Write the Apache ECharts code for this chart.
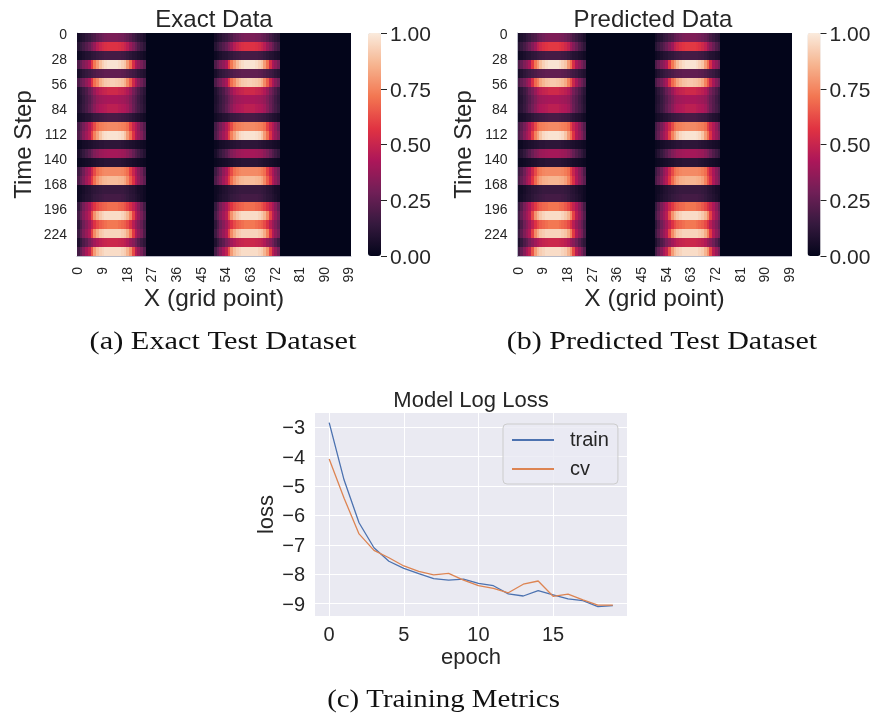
<!DOCTYPE html>
<html>
<head>
<meta charset="utf-8">
<script src="https://cdn.jsdelivr.net/npm/echarts@6/dist/echarts.min.js"></script>
<style>html,body{margin:0;padding:0;background:#fff}#c{width:875px;height:715px}</style>
</head>
<body>
<div id="c"></div>
<script>
// Values, in percent of the colour range. One row = 10 time steps, one entry = one grid point of the band.
const bandRows = [
[5,8,10,13,15,18,20,24,26,28,30,31,31,31,31,30,29,27,25,22,18,15,12,10,7],
[10,14,18,22,26,32,38,46,50,53,55,56,56,56,56,55,53,50,46,38,32,26,20,16,12],
[3,5,7,9,10,12,13,15,16,17,18,18,18,18,18,18,17,16,14,12,10,9,7,6,4],
[20,26,32,36,42,58,72,80,88,93,96,98,98,98,98,96,93,90,80,70,54,42,36,30,24],
[6,9,12,14,16,18,20,22,23,24,25,25,25,25,25,25,24,23,21,19,17,15,12,10,8],
[20,26,30,36,42,56,70,76,84,88,91,92,93,93,92,91,89,85,76,66,52,42,34,28,22],
[8,12,16,20,26,31,38,44,47,49,50,52,52,52,52,50,49,47,44,38,30,25,20,15,11],
[7,10,14,18,22,27,32,37,39,40,41,42,42,42,42,41,40,39,37,32,26,22,17,13,9],
[8,11,15,19,24,29,35,40,43,44,45,47,47,47,47,45,44,43,40,34,27,22,18,14,10],
[4,6,7,9,10,12,14,15,16,17,18,19,19,19,19,18,17,16,15,13,11,9,8,6,4],
[18,24,30,36,44,52,62,70,73,74,75,76,76,76,76,75,74,73,70,60,50,44,36,28,22],
[20,26,34,40,46,60,74,82,90,95,97,98,98,98,98,97,95,90,80,70,56,44,38,32,24],
[2,3,5,6,7,8,9,10,11,11,12,12,12,12,12,12,11,10,9,8,7,6,5,4,3],
[6,10,14,18,22,27,32,35,38,39,40,41,41,41,41,40,39,38,35,31,26,21,17,13,9],
[2,3,4,5,6,7,8,9,10,10,11,11,11,11,11,11,10,9,8,7,6,5,4,3,2],
[16,22,28,36,42,52,62,70,73,75,76,76,76,76,76,76,75,73,70,60,50,42,34,28,20],
[20,26,32,40,46,58,70,78,83,86,87,88,88,88,88,87,86,83,76,66,56,44,36,30,24],
[3,4,6,8,9,11,12,13,14,15,15,15,15,15,15,15,15,14,13,11,10,8,6,5,3],
[3,5,7,9,10,12,14,15,16,17,18,18,18,18,18,18,17,16,14,12,11,9,7,5,3],
[14,22,30,36,42,50,57,62,65,67,68,70,70,70,70,68,67,64,60,54,48,42,34,26,18],
[18,26,34,40,46,62,78,86,91,94,96,96,96,96,96,96,94,91,86,76,60,46,38,30,22],
[12,20,28,34,40,48,56,62,66,68,70,72,72,72,72,70,68,66,62,55,46,38,32,26,18],
[16,24,32,38,44,60,76,84,90,92,94,94,94,94,94,94,92,90,84,74,58,44,36,30,20],
[8,14,20,24,30,35,40,44,47,49,50,51,51,51,51,50,49,47,44,38,34,28,22,16,12],
[18,26,34,42,48,64,80,88,92,94,96,96,96,96,96,96,94,92,86,78,62,46,38,30,22]
];
// Brightness of the predicted panel relative to the exact panel, read row by row.
const predictedRowGain = [1.03,1.04,1,1,1,0.98,1,1,1,1,1,1,1,1,1,1,0.98,1,1,1.02,1,1,1,1,1];
const bandStarts = [0, 50];
const timeSteps = 250;
const gridPoints = 100;
const stepsPerRow = 10;
const epochs = [0,1,2,3,4,5,6,7,8,9,10,11,12,13,14,15,16,17,18,19];
const trainLoss = [-2.85,-4.8,-6.25,-7.1,-7.56,-7.8,-7.98,-8.15,-8.2,-8.17,-8.31,-8.39,-8.67,-8.74,-8.56,-8.7,-8.84,-8.9,-9.1,-9.07];
const cvLoss = [-4.08,-5.42,-6.63,-7.19,-7.44,-7.72,-7.9,-8.02,-7.97,-8.2,-8.39,-8.48,-8.63,-8.34,-8.23,-8.75,-8.68,-8.87,-9.05,-9.05];
const lossTicks = [-9,-8,-7,-6,-5,-4,-3];
const epochTicks = [0,5,10,15];
const rocket = ['#03051a','#35193e','#701f57','#ad1759','#e13342','#f37651','#f6b48f','#faebdd'];

function cells(gains){
  const out = [];
  bandRows.forEach((row, r) => {
    for (let x = 0; x < gridPoints; x++){
      let v = 0;
      if (x < 25) v = row[x];
      else if (x >= bandStarts[1] && x < bandStarts[1] + 24) v = row[x - bandStarts[1]];
      out.push([x, r * stepsPerRow, Math.min(1, v / 100 * gains[r])]);
    }
  });
  return out;
}
function renderCell(params, api){
  const a = api.coord([api.value(0), api.value(1)]);
  const b = api.coord([api.value(0), api.value(1) + stepsPerRow - 1]);
  const s = api.size([1, 1]);
  const x0 = Math.round(a[0] - s[0] / 2), x1 = Math.round(a[0] + s[0] / 2);
  const y0 = Math.round(a[1] - s[1] / 2), y1 = Math.round(b[1] + s[1] / 2);
  return {type:'rect', shape:{x:x0, y:y0, width:x1-x0, height:y1-y0}, style:{fill:api.visual('color')}};
}
const xCats = Array.from({length: gridPoints}, (_, i) => String(i));
const yCats = Array.from({length: timeSteps}, (_, i) => String(i));
const unit = bandRows.map(() => 1);
const ink = '#262626', sans = '"Liberation Sans", Arial, sans-serif';

function t(text, x, y, size){
  return {text, left:x, top:y, textAlign:'center', textVerticalAlign:'middle', padding:0,
    textStyle:{color:ink, fontFamily:sans, fontSize:size, fontWeight:'normal'}};
}
function caption(text, x, y, stretch){
  return {type:'text', x, y, scaleX:stretch, silent:true,
    style:{text, x:0, y:0, align:'center', verticalAlign:'middle', fill:'#111', font:'25px "Liberation Serif", serif'}};
}
function minus(v){ return String(v).replace('-', '\u2212'); }

const hmX = [77, 517.5], cbX = [368, 807.5];
const grids = [], xAxes = [], yAxes = [], vms = [], series = [];
[0,1].forEach(p => {
  grids.push({left:hmX[p], top:33, width:274, height:223});
  xAxes.push({gridIndex:grids.length-1, type:'category', data:xCats, name:'X (grid point)', nameLocation:'middle', nameGap:29,
    nameTextStyle:{color:ink,fontFamily:sans,fontSize:24.5},
    axisLine:{show:true,lineStyle:{color:'#b9b9c6',width:1}}, axisTick:{show:false}, splitLine:{show:false},
    axisLabel:{interval:8, rotate:90, margin:11, color:ink, fontFamily:sans, fontSize:14}});
  yAxes.push({gridIndex:grids.length-1, type:'category', data:yCats, inverse:true, name:'Time Step', nameLocation:'middle', nameGap:41,
    nameTextStyle:{color:ink,fontFamily:sans,fontSize:24},
    axisLine:{show:true,lineStyle:{color:'#b9b9c6',width:1}}, axisTick:{show:false}, splitLine:{show:false},
    axisLabel:{interval:27, margin:10, color:ink, fontFamily:sans, fontSize:14, verticalAlign:'top', lineHeight:4}});
  series.push({type:'custom', renderItem:renderCell, xAxisIndex:p, yAxisIndex:p, data:cells(p===0?unit:predictedRowGain),
    encode:{x:0,y:1}, progressive:0, animation:false, silent:true, z:1});
  vms.push({type:'continuous', seriesIndex:p, dimension:2, min:0, max:1, left:cbX[p], top:33, itemWidth:13, itemHeight:223,
    calculable:false, hoverLink:false, realtime:false, text:null, padding:0, inRange:{color:rocket}, textStyle:{color:'rgba(0,0,0,0)'}});
});
[0,1].forEach(p => {
  grids.push({left:cbX[p], top:33, width:13, height:223});
  xAxes.push({gridIndex:grids.length-1, type:'value', show:false});
  yAxes.push({gridIndex:grids.length-1, type:'value', min:0, max:1, interval:0.25, position:'right', offset:0,
    axisLine:{show:true,onZero:false,lineStyle:{color:'rgba(0,0,0,0)'}}, splitLine:{show:false},
    axisTick:{show:true,inside:false,length:6,lineStyle:{color:ink,width:1}},
    axisLabel:{margin:9, color:ink, fontFamily:sans, fontSize:21, verticalAlign:'top', lineHeight:4, formatter:v=>v.toFixed(2)}});
});
grids.push({left:315, top:413, width:312, height:203, show:true, backgroundColor:'#eaeaf2', borderWidth:0});
const lg = grids.length-1;
xAxes.push({gridIndex:lg, type:'value', min:-0.95, max:19.95, name:'epoch', nameLocation:'middle', nameGap:31,
  nameTextStyle:{color:ink,fontFamily:sans,fontSize:22},
  axisLine:{show:false}, axisTick:{show:false, customValues:epochTicks},
  splitLine:{show:true,lineStyle:{color:'#fff',width:1}},
  axisLabel:{customValues:epochTicks, margin:9, color:ink, fontFamily:sans, fontSize:20}});
yAxes.push({gridIndex:lg, type:'value', min:-9.42, max:-2.52, name:'loss', nameLocation:'middle', nameGap:36,
  nameTextStyle:{color:ink,fontFamily:sans,fontSize:22},
  axisLine:{show:false}, axisTick:{show:false, customValues:lossTicks},
  splitLine:{show:true,lineStyle:{color:'#fff',width:1}},
  axisLabel:{customValues:lossTicks, margin:10, color:ink, fontFamily:sans, fontSize:20, verticalAlign:'top', lineHeight:3, formatter:minus}});
series.push({name:'train', type:'line', xAxisIndex:lg, yAxisIndex:lg, symbol:'none', animation:false, silent:true,
  data:epochs.map((e,i)=>[e,trainLoss[i]]), lineStyle:{color:'#4c72b0',width:1.3}, itemStyle:{color:'#4c72b0'}});
series.push({name:'cv', type:'line', xAxisIndex:lg, yAxisIndex:lg, symbol:'none', animation:false, silent:true,
  data:epochs.map((e,i)=>[e,cvLoss[i]]), lineStyle:{color:'#dd8452',width:1.3}, itemStyle:{color:'#dd8452'}});

const chart = echarts.init(document.getElementById('c'), null, {renderer:'canvas'});
chart.setOption({
  animation:false, backgroundColor:'#fff',
  title:[ t('Exact Data',214,20,24), t('Predicted Data',653,20,24), t('Model Log Loss',471,401,22) ],
  graphic:[
    caption('(a) Exact Test Dataset',223,342,1.215),
    caption('(b) Predicted Test Dataset',662,342,1.2),
    caption('(c) Training Metrics',443.5,700,1.153)
  ],
  grid:grids, xAxis:xAxes, yAxis:yAxes, visualMap:vms, series,
  legend:{data:['train','cv'], left:503, top:424, orient:'vertical', padding:[6,9,5,8], itemWidth:42, itemHeight:14, itemGap:9,
    itemStyle:{opacity:0}, backgroundColor:'rgba(234,234,242,0.8)', borderColor:'#cccccc', borderWidth:1, borderRadius:4,
    selectedMode:false, textStyle:{color:ink,fontFamily:sans,fontSize:20,padding:[0,0,0,11]}}
});
</script>
</body>
</html>
